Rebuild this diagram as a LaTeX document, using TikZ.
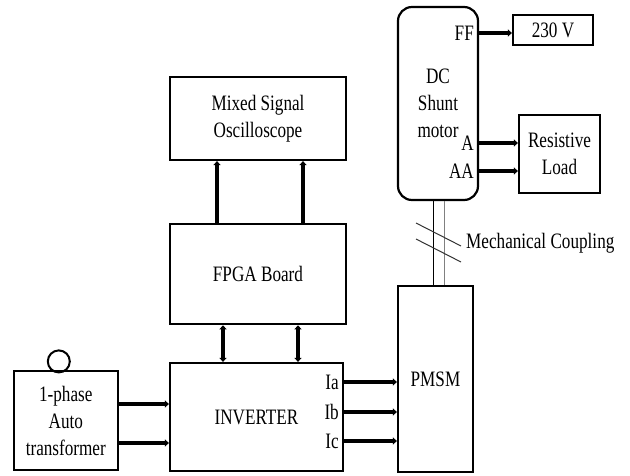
\documentclass[tikz,border=0pt]{standalone}
\usepackage{fontspec}
\setmainfont{Liberation Serif}[FakeStretch=0.78]
\usetikzlibrary{positioning,arrows.meta}

\begin{document}
\begin{tikzpicture}[
  x=1pt,y=-1pt,
  blk/.style={draw,line width=2.2pt,align=center,inner sep=2pt,
              font=\fontsize{22}{27}\selectfont},
  lbl/.style={inner sep=1pt,font=\fontsize{22}{27}\selectfont},
  ar/.style={-{Triangle[length=4pt,width=7pt]},line width=3.5pt},
  biar/.style={{Triangle[length=4pt,width=7pt]}-{Triangle[length=4pt,width=7pt]},line width=3.5pt},
  shaft/.style={line width=1pt}
]
\useasboundingbox (0,0) rectangle (630,475);

\node[blk,minimum width=176pt,minimum height=83pt] (scope) at (258,118.5)
  {Mixed Signal\\Oscilloscope};
\node[blk,below=62pt of scope,minimum width=176pt,minimum height=100pt] (fpga)
  {FPGA Board};
\node[blk,minimum width=173pt,minimum height=108pt] (inv) at (256.5,417)
  {INVERTER};
\node[blk,left=50pt of inv,yshift=-3.5pt,minimum width=104pt,minimum height=99pt] (auto)
  {1-phase\\Auto\\transformer};
\node[draw,circle,line width=2pt,minimum size=22pt,inner sep=0pt,outer sep=0pt,
      anchor=south] (knob) at ([xshift=-7pt,yshift=-2.5pt]auto.north) {};
\node[blk,minimum width=75pt,minimum height=186pt] (pmsm) at (435.5,379) {PMSM};
\node[blk,rounded corners=14pt,minimum width=80pt,minimum height=193pt] (dc)
  at (438,103.5) {DC\\Shunt\\motor};
\node[blk,minimum width=80pt,minimum height=30pt] (volt) at (553,30) {230 V};
\node[blk,minimum width=81pt,minimum height=78pt] (load) at (559.5,154)
  {Resistive\\Load};

% terminal labels
\node[lbl,anchor=east] (ff) at (475,33) {FF};
\node[lbl,anchor=east] (arm) at (475,143) {A};
\node[lbl,anchor=east] (arma) at (475,171) {AA};
\node[lbl,anchor=east] (ia) at (340,382) {Ia};
\node[lbl,anchor=east] (ib) at (340,412) {Ib};
\node[lbl,anchor=east] (ic) at (340,441) {Ic};

\draw[ar] ([xshift=-41pt]fpga.north) -- ([xshift=-41pt]fpga.north |- scope.south);
\draw[ar] ([xshift=45pt]fpga.north) -- ([xshift=45pt]fpga.north |- scope.south);
\draw[biar] ([xshift=-33.5pt]inv.north) -- ([xshift=-33.5pt]inv.north |- fpga.south);
\draw[biar] ([xshift=41.5pt]inv.north) -- ([xshift=41.5pt]inv.north |- fpga.south);
\draw[ar] ([yshift=16.5pt]auto.east) -- ([yshift=16.5pt]auto.east -| inv.west);
\draw[ar] ([yshift=-22.5pt]auto.east) -- ([yshift=-22.5pt]auto.east -| inv.west);
\draw[ar] (inv.east |- ia) -- (pmsm.west |- ia);
\draw[ar] (inv.east |- ib) -- (pmsm.west |- ib);
\draw[ar] (inv.east |- ic) -- (pmsm.west |- ic);
\draw[ar] (dc.east |- ff) -- (volt.west |- ff);
\draw[ar] (dc.east |- arm) -- (load.west |- arm);
\draw[ar] (dc.east |- arma) -- (load.west |- arma);

% shaft between motors
\draw[shaft] ([xshift=-5pt]dc.south) -- ([xshift=-5pt]dc.south |- pmsm.north);
\draw[shaft,gray] ([xshift=6pt]dc.south) -- ([xshift=6pt]dc.south |- pmsm.north);
\draw[shaft,black!80] (416,223) -- (461,246);
\draw[shaft,black!80] (416,239) -- (461,262);
\node[lbl,anchor=west] (coupling) at (465,243) {Mechanical Coupling};
\end{tikzpicture}
\end{document}
